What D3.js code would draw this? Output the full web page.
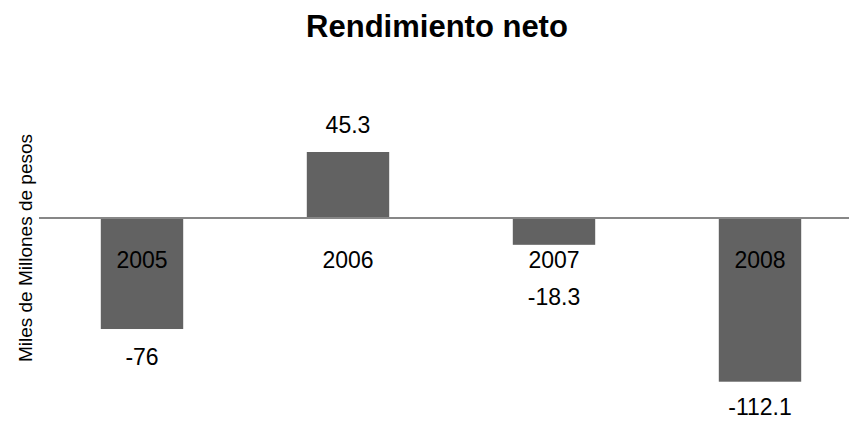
<!DOCTYPE html>
<html>
<head>
<meta charset="utf-8">
<script src="https://cdn.jsdelivr.net/npm/d3@7"></script>
<style>
  body { margin: 0; background: #fff; }
  text { font-family: "Liberation Sans", Arial, sans-serif; fill: #000; }
</style>
</head>
<body>
<div id="chart"></div>
<script>
// data
var years = ['2005', '2006', '2007', '2008'];
var values = [-76, 45.3, -18.3, -112.1];
var title = 'Rendimiento neto';
var yTitle = 'Miles de Millones de pesos';

var width = 849, height = 421;

var svg = d3.select('#chart').append('svg')
  .attr('width', width)
  .attr('height', height);

var x = d3.scaleBand()
  .domain(years)
  .range([39, 863])
  .paddingInner(0.6)
  .paddingOuter(0.3);

var y = d3.scaleLinear()
  .domain([d3.min(values), d3.max(values)])
  .range([381.7, 152]);

var rows = years.map(function(yr, i) { return {year: yr, value: values[i]}; });

// title
svg.append('text')
  .attr('x', 437)
  .attr('y', 37)
  .attr('text-anchor', 'middle')
  .style('font-size', '31px')
  .style('font-weight', 'bold')
  .text(title);

// y axis title
svg.append('text')
  .attr('transform', 'translate(32,248) rotate(-90)')
  .attr('text-anchor', 'middle')
  .style('font-size', '19px')
  .text(yTitle);

// bars
svg.append('g').selectAll('rect').data(rows).enter()
  .append('rect')
  .attr('x', function(d) { return x(d.year); })
  .attr('width', x.bandwidth())
  .attr('y', function(d) { return Math.min(y(d.value), y(0)); })
  .attr('height', function(d) { return Math.abs(y(d.value) - y(0)); })
  .attr('fill', '#626262');

// zero line (category axis)
svg.append('line')
  .attr('x1', 39).attr('x2', width)
  .attr('y1', y(0)).attr('y2', y(0))
  .attr('stroke', '#878787')
  .attr('stroke-width', 2);

// category labels, sitting just under the axis
var catBase = y(0) + 50;
svg.append('g').selectAll('text').data(rows).enter()
  .append('text')
  .attr('x', function(d) { return x(d.year) + x.bandwidth() / 2; })
  .attr('y', catBase)
  .attr('text-anchor', 'middle')
  .style('font-size', '23px')
  .text(function(d) { return d.year; });

// value labels
svg.append('g').selectAll('text').data(rows).enter()
  .append('text')
  .attr('x', function(d) { return x(d.year) + x.bandwidth() / 2; })
  .attr('y', function(d) {
    if (d.value >= 0) return y(d.value) - 19;
    return Math.min(height - 6, Math.max(y(d.value) + 36, catBase + 37));
  })
  .attr('text-anchor', 'middle')
  .style('font-size', '23px')
  .text(function(d) { return d.value; });
</script>
</body>
</html>
